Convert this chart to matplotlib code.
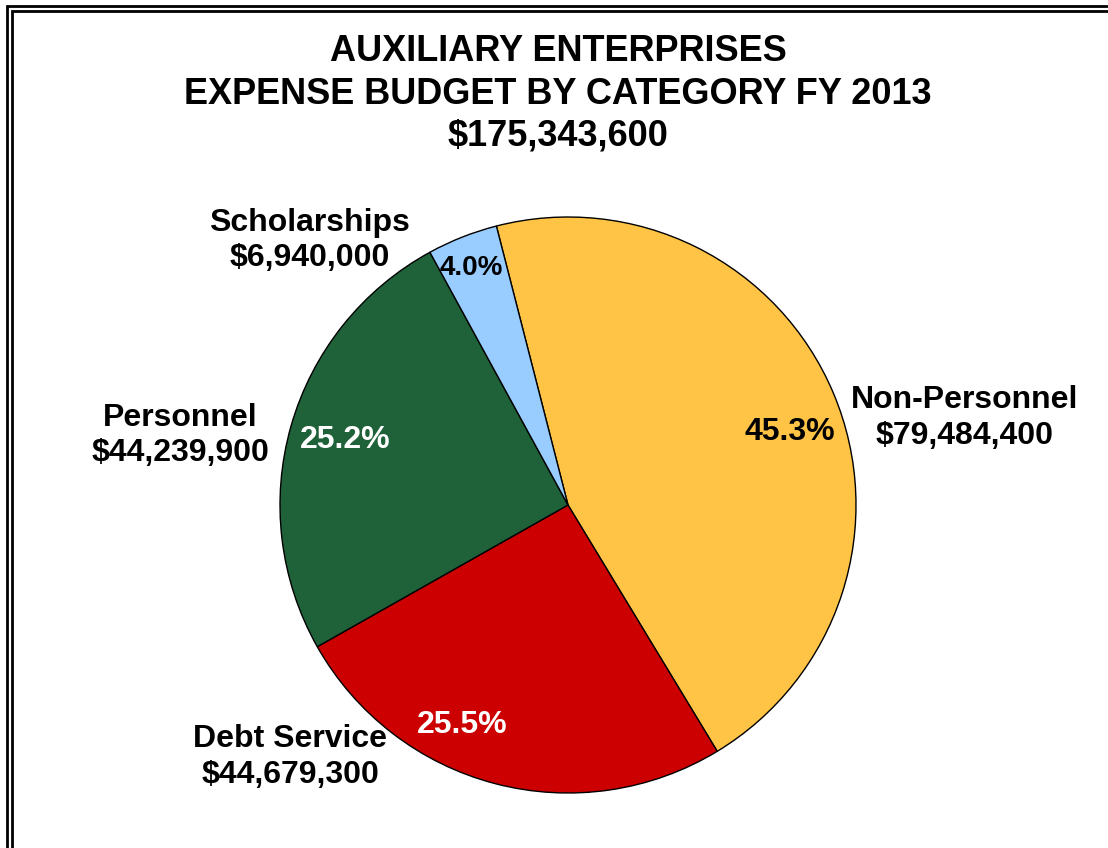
import matplotlib.pyplot as plt
from matplotlib.patches import Rectangle

plt.rcParams['font.family'] = ['Liberation Sans', 'DejaVu Sans']

# budget categories, clockwise from the top
categories = ['Non-Personnel', 'Debt Service', 'Personnel', 'Scholarships']
amounts = [79484400, 44679300, 44239900, 6940000]
colors = ['#FFC445', '#CC0000', '#1F6239', '#99CCFF']
pct_colors = ['black', 'white', 'white', 'black']
pct_sizes = [23, 23, 23, 20]
total = sum(amounts)

# where the outside and inside labels sit (pie radius = 1)
label_pos = [(1.378, 0.302), (-0.965, -0.875), (-1.347, 0.240), (-0.896, 0.920)]
pct_pos = [(0.771, 0.253), (-0.368, -0.764), (-0.774, 0.226), (-0.337, 0.823)]

W, H = 1108, 848
fig = plt.figure(figsize=(W / 100, H / 100), dpi=100)
fig.patch.set_facecolor('white')

# double frame, cut off at right and bottom
for off in (6.5, 11.5):
    fig.patches.append(Rectangle((off / W, -0.1), 1.2, 1.1 - off / H,
                                 transform=fig.transFigure, fill=False,
                                 edgecolor='black', linewidth=2.0))

cx, cy, r = 568, 505, 288
ax = fig.add_axes([(cx - r) / W, (H - cy - r) / H, 2 * r / W, 2 * r / H])

wedges, texts, autotexts = ax.pie(
    amounts, colors=colors, startangle=104.4, counterclock=False,
    autopct='%1.1f%%', radius=1,
    wedgeprops=dict(edgecolor='black', linewidth=1.0),
    textprops=dict(fontsize=23, fontweight='bold'))

for t, pos, c, s in zip(autotexts, pct_pos, pct_colors, pct_sizes):
    t.set_position(pos)
    t.set_color(c)
    t.set_fontsize(s)
    t.set_ha('center')
    t.set_va('center')

for name, amt, pos in zip(categories, amounts, label_pos):
    ax.text(pos[0], pos[1], f'{name}\n${amt:,.0f}', ha='center', va='center',
            fontsize=23, fontweight='bold', linespacing=1.22)

ax.set_xlim(-1, 1)
ax.set_ylim(-1, 1)
ax.set_aspect('equal')
ax.axis('off')

fig.text(558 / W, 1 - 94 / H,
         f'AUXILIARY ENTERPRISES\nEXPENSE BUDGET BY CATEGORY FY 2013\n${total:,.0f}',
         ha='center', va='center', fontsize=26, fontweight='bold', linespacing=1.27)

fig.savefig('out.png', dpi=100)
